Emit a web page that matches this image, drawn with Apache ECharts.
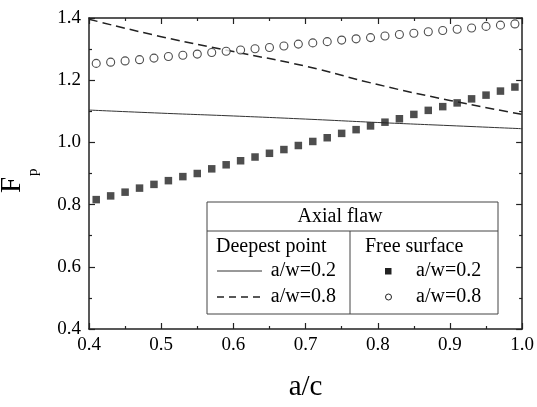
<!DOCTYPE html>
<html>
<head>
<meta charset="utf-8">
<script src="https://cdn.jsdelivr.net/npm/echarts@6/dist/echarts.min.js"></script>
<style>html,body{margin:0;padding:0;background:#fff;}#c{width:537px;height:407px;}</style>
</head>
<body>
<div id="c"></div>
<script>
// Data
var xTicks = ['0.4','0.5','0.6','0.7','0.8','0.9','1.0'];
var yTicks = ['0.4','0.6','0.8','1.0','1.2','1.4'];

var xFree = [0.41,0.43,0.45,0.47,0.49,0.51,0.53,0.55,0.57,0.59,0.61,0.63,0.65,0.67,0.69,
             0.71,0.73,0.75,0.77,0.79,0.81,0.83,0.85,0.87,0.89,0.91,0.93,0.95,0.97,0.99];
var freeAw02 = [0.816,0.828,0.840,0.853,0.865,0.877,0.890,0.900,0.915,0.928,0.941,0.953,0.965,0.977,0.990,
                1.003,1.015,1.029,1.041,1.053,1.065,1.076,1.090,1.103,1.115,1.127,1.140,1.152,1.165,1.178];
var freeAw08 = [1.254,1.258,1.262,1.266,1.271,1.276,1.280,1.284,1.289,1.293,1.297,1.301,1.305,1.310,1.316,
                1.320,1.324,1.329,1.333,1.337,1.342,1.347,1.351,1.356,1.360,1.364,1.368,1.373,1.377,1.381];

var xDeep = [0.4,0.5,0.6,0.7,0.8,0.9,1.0];
var deepAw02 = [1.104,1.094,1.085,1.075,1.064,1.054,1.044];
var deepAw08 = [1.396,1.340,1.292,1.245,1.186,1.135,1.090];

function pairs(xs, ys){ return xs.map(function(x,i){ return [x, ys[i]]; }); }

var FONT = 'Liberation Serif';
var AX = '#222';

var chart = echarts.init(document.getElementById('c'), null, {renderer:'canvas'});

function xAx(pos, show){
  return {
    type:'value', position:pos, min:0.4, max:1.0, interval:0.1,
    axisLine:{show:true, onZero:false, lineStyle:{color:AX, width:1.5}},
    axisTick:{show:true, inside:true, length:6, lineStyle:{color:AX, width:1.2}},
    minorTick:{show:true, splitNumber:2, length:3, lineStyle:{color:AX, width:1.2}},
    splitLine:{show:false}, minorSplitLine:{show:false},
    axisLabel:{show:show, margin:7, color:'#000', fontFamily:FONT, fontSize:19,
      formatter:function(v){ var s=v.toFixed(1); return xTicks.indexOf(s)>=0 ? s : ''; }}
  };
}
function yAx(pos, show){
  return {
    type:'value', position:pos, min:0.4, max:1.4, interval:0.2,
    axisLine:{show:true, onZero:false, lineStyle:{color:AX, width:1.5}},
    axisTick:{show:true, inside:true, length:6, lineStyle:{color:AX, width:1.2}},
    minorTick:{show:true, splitNumber:2, length:3, lineStyle:{color:AX, width:1.2}},
    splitLine:{show:false}, minorSplitLine:{show:false},
    axisLabel:{show:show, margin:8, color:'#000', fontFamily:FONT, fontSize:19,
      formatter:function(v){ var s=v.toFixed(1); return yTicks.indexOf(s)>=0 ? s : ''; }}
  };
}

var xa = xAx('bottom', true);
xa.name = 'a/c'; xa.nameLocation = 'middle'; xa.nameGap = 44;
xa.nameTextStyle = {fontFamily:FONT, fontSize:29, color:'#000'};

var lx = 207, ly = 202, lw = 291, lh = 112;
function T(x,y,s,align){ return {type:'text', x:x, y:y, z:11, style:{text:s, textAlign:align||'left', textVerticalAlign:'middle', fontFamily:FONT, fontSize:20, fill:'#000'}}; }

var graphics = [
  {type:'rect', shape:{x:lx, y:ly, width:lw, height:lh}, style:{fill:'#fff', stroke:'#444', lineWidth:1}, z:10},
  {type:'line', shape:{x1:lx, y1:231, x2:lx+lw, y2:231}, style:{stroke:'#444', lineWidth:1}, z:11},
  {type:'line', shape:{x1:350, y1:231, x2:350, y2:ly+lh}, style:{stroke:'#444', lineWidth:1}, z:11},
  T(340,217,'Axial flaw','center'),
  T(216,247,'Deepest point'),
  T(365,247,'Free surface'),
  {type:'line', shape:{x1:217, y1:271, x2:262, y2:271}, style:{stroke:'#333', lineWidth:1}, z:11},
  T(336,271,'a/w=0.2','right'),
  {type:'line', shape:{x1:217, y1:297, x2:264, y2:297}, style:{stroke:'#222', lineWidth:1.5, lineDash:[7,5]}, z:11},
  T(336,297,'a/w=0.8','right'),
  {type:'rect', shape:{x:385, y:268, width:6.5, height:6.5}, style:{fill:'#222'}, z:11},
  T(416,271,'a/w=0.2'),
  {type:'circle', shape:{cx:388.5, cy:297, r:3}, style:{fill:'#fff', stroke:'#222', lineWidth:1}, z:11},
  T(416,297,'a/w=0.8'),
  // y axis name F_p (rotated)
  {type:'group', x:22, y:180, rotation:Math.PI/2, children:[
    {type:'text', x:-13, y:5, style:{text:'F', fontFamily:FONT, fontSize:29, fill:'#000', textVerticalAlign:'bottom'}},
    {type:'text', x:4, y:19, style:{text:'p', fontFamily:FONT, fontSize:15, fill:'#000', textVerticalAlign:'bottom'}}
  ]}
];

chart.setOption({
  animation:false,
  backgroundColor:'#fff',
  grid:{left:89, right:14, top:18, bottom:65, containLabel:false},
  xAxis:[xa, xAx('top', false)],
  yAxis:[yAx('left', true), yAx('right', false)],
  series:[
    {type:'line', data:pairs(xDeep, deepAw02), showSymbol:false, smooth:true,
     lineStyle:{color:'#333', width:1}, z:3},
    {type:'line', data:pairs(xDeep, deepAw08), showSymbol:false, smooth:true,
     lineStyle:{color:'#222', width:1.5, type:[9,5]}, z:3},
    {type:'scatter', data:pairs(xFree, freeAw02), symbol:'rect', symbolSize:7.5,
     itemStyle:{color:'#222'}, z:4},
    {type:'scatter', data:pairs(xFree, freeAw08), symbol:'circle', symbolSize:8,
     itemStyle:{color:'#fff', borderColor:'#222', borderWidth:1.1}, z:4}
  ],
  graphic:graphics
});
</script>
</body>
</html>
